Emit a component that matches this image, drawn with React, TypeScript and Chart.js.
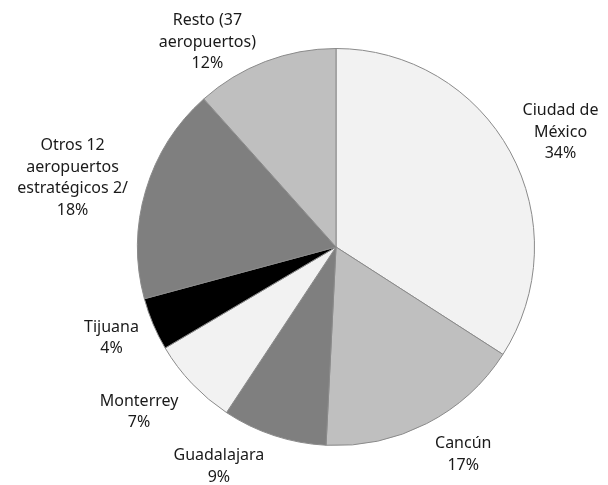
import React, { useEffect, useRef } from "react";
import { Chart, registerables } from "chart.js";

Chart.register(...registerables);

const categories = [
  "Ciudad de México",
  "Cancún",
  "Guadalajara",
  "Monterrey",
  "Tijuana",
  "Otros 12 aeropuertos estratégicos 2/",
  "Resto (37 aeropuertos)",
];
const shares = [34.1, 16.7, 8.5, 7.2, 4.3, 17.6, 11.6];
const pctLabels = ["34%", "17%", "9%", "7%", "4%", "18%", "12%"];
const labelLines = [
  ["Ciudad de", "México"],
  ["Cancún"],
  ["Guadalajara"],
  ["Monterrey"],
  ["Tijuana"],
  ["Otros 12", "aeropuertos", "estratégicos 2/"],
  ["Resto (37", "aeropuertos)"],
];
const sliceColors = ["#f2f2f2", "#bfbfbf", "#7f7f7f", "#f2f2f2", "#000000", "#7f7f7f", "#bfbfbf"];

// label block centres, in units of the pie radius relative to the pie centre
const labelAnchors = [
  [1.131, -0.579],
  [0.641, 1.045],
  [-0.59, 1.106],
  [-0.992, 0.832],
  [-1.131, 0.457],
  [-1.327, -0.347],
  [-0.648, -1.033],
];

const FONT = '16px "Noto Sans", sans-serif';
const LINE_H = 21.5;

const labelPlugin = {
  id: "outerLabels",
  afterDatasetsDraw(chart: any) {
    const meta = chart.getDatasetMeta(0);
    const ctx = chart.ctx;
    ctx.save();
    ctx.font = FONT;
    ctx.fillStyle = "#1a1a1a";
    ctx.textAlign = "center";
    ctx.textBaseline = "middle";
    meta.data.forEach((arc: any, i: number) => {
      const { x, y, outerRadius } = arc.getProps(["x", "y", "outerRadius"], true);
      const [fx, fy] = labelAnchors[i];
      const cx = x + fx * outerRadius;
      const cy = y + fy * outerRadius;
      const lines = [...labelLines[i], pctLabels[i]];
      const top = cy - ((lines.length - 1) * LINE_H) / 2;
      lines.forEach((t, k) => ctx.fillText(t, cx, top + k * LINE_H));
    });
    ctx.restore();
  },
};

export default function App() {
  const ref = useRef<HTMLCanvasElement | null>(null);
  useEffect(() => {
    if (!ref.current) return;
    const chart = new Chart(ref.current, {
      type: "pie",
      data: {
        labels: categories,
        datasets: [
          {
            data: shares,
            backgroundColor: sliceColors,
            borderColor: "#8a8a8a",
            borderWidth: 1,
          },
        ],
      },
      options: {
        animation: false,
        responsive: true,
        maintainAspectRatio: false,
        layout: { padding: { left: 137, top: 48, right: 73, bottom: 39 } },
        plugins: { legend: { display: false }, tooltip: { enabled: false } },
      },
      plugins: [labelPlugin],
    });
    return () => chart.destroy();
  }, []);
  return (
    <div style={{ position: "fixed", left: 0, top: 0, width: 608, height: 485, background: "#fff" }}>
      <canvas ref={ref} />
    </div>
  );
}
